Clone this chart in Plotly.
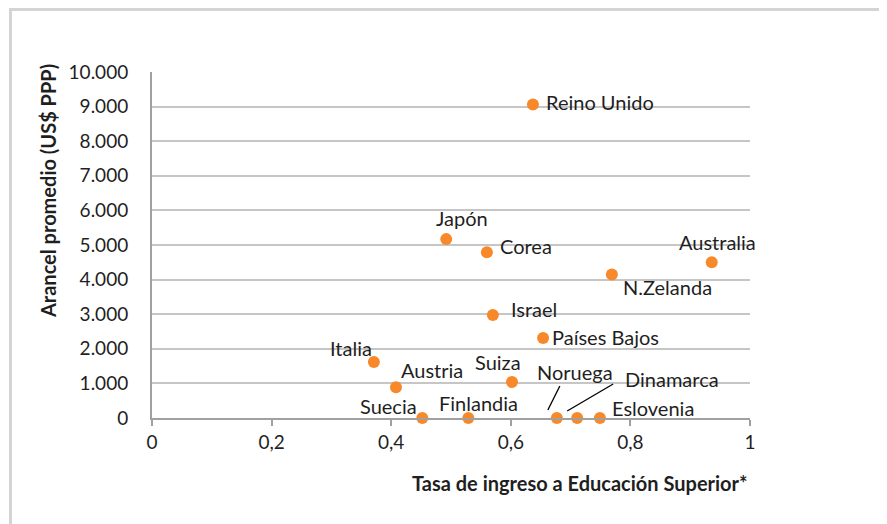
import plotly.graph_objects as go

countries = ["Reino Unido", "Japón", "Corea", "Australia", "N.Zelanda", "Israel",
             "Países Bajos", "Italia", "Austria", "Suiza", "Suecia", "Finlandia",
             "Noruega", "Dinamarca", "Eslovenia"]
tasa = [0.637, 0.492, 0.560, 0.936, 0.769, 0.570, 0.654, 0.371, 0.408, 0.602,
        0.452, 0.529, 0.677, 0.711, 0.749]
arancel = [9060, 5170, 4790, 4500, 4150, 2980, 2310, 1620, 890, 1040,
           0, 0, 0, 0, 0]
x_ticks = [0, 0.2, 0.4, 0.6, 0.8, 1.0]
x_ticktext = ["0", "0,2", "0,4", "0,6", "0,8", "1"]
y_ticks = list(range(0, 10001, 1000))

# label offsets (pixels) relative to each point: (xshift, yshift)
label_offsets = {
    "Reino Unido": (67, 3), "Japón": (16, 21), "Corea": (39, 6),
    "Australia": (6, 20), "N.Zelanda": (56, -13), "Israel": (41, 6),
    "Países Bajos": (62, 1), "Italia": (-23, 14), "Austria": (36, 17),
    "Suiza": (-14, 20), "Suecia": (-34, 12), "Finlandia": (10, 15),
    "Noruega": (18, 46), "Dinamarca": (95, 39), "Eslovenia": (53, 10),
}

FONT = "Lato, Carlito, Calibri, sans-serif"
TXT = "#1f1f1f"

# page has an 8px body margin; target plot area (page px): x 152..750, y 72..418
OFF = 8
PX0, PX1, PY0, PY1 = 152, 750, 72, 418
W, H = 887 - OFF, 524 - OFF
L, T = PX0 - OFF, PY0 - OFF
pw, ph = PX1 - PX0, PY1 - PY0
R, B = W - L - pw, H - T - ph

fig = go.Figure()
fig.add_trace(go.Scatter(
    x=tasa, y=arancel, mode="markers", cliponaxis=False,
    marker=dict(size=12, color="#F7892A"), hoverinfo="text", text=countries,
    showlegend=False,
))

anns = []
for c, xv, yv in zip(countries, tasa, arancel):
    dx, dy = label_offsets[c]
    anns.append(dict(x=xv, y=yv, text=c, showarrow=False, xanchor="center",
                     yanchor="middle", xshift=dx, yshift=dy,
                     font=dict(family=FONT, size=20, color=TXT)))

# axis titles
anns.append(dict(x=1.0, y=(PY1 - 483) / ph, xref="paper", yref="paper", xanchor="right",
                 yanchor="middle", showarrow=False,
                 text="<b>Tasa de ingreso a Educación Superior*</b>",
                 font=dict(family=FONT, size=20, color=TXT)))
anns.append(dict(x=(48 - PX0) / pw, y=(PY1 - 191) / ph, xref="paper", yref="paper",
                 xanchor="center", yanchor="middle", showarrow=False, textangle=-90,
                 text="<b>Arancel promedio (US$ PPP)</b>",
                 font=dict(family=FONT, size=20, color=TXT)))

shapes = []
# leader lines for Noruega and Dinamarca (data coords relative to points)
i_n = countries.index("Noruega")
i_d = countries.index("Dinamarca")
px = 1.0 / pw  # data units per pixel in x
py = 10000.0 / ph  # data units per pixel in y
shapes.append(dict(type="line", xref="x", yref="y",
                   x0=tasa[i_n] - 9 * px, y0=arancel[i_n] + 8 * py,
                   x1=tasa[i_n] + 3 * px, y1=arancel[i_n] + 32 * py,
                   line=dict(color="#000000", width=1.3)))
shapes.append(dict(type="line", xref="x", yref="y",
                   x0=tasa[i_d] - 10 * px, y0=arancel[i_d] + 7 * py,
                   x1=tasa[i_d] + 36 * px, y1=arancel[i_d] + 34 * py,
                   line=dict(color="#000000", width=1.3)))
# outer chart border
shapes.append(dict(type="rect", xref="paper", yref="paper",
                   x0=(10.5 - PX0) / pw, x1=(900 - PX0) / pw,
                   y0=(PY1 - 540) / ph, y1=(PY1 - 9.5) / ph,
                   line=dict(color="#D4D4D4", width=3), layer="below"))

fig.update_layout(
    width=W, height=H, margin=dict(l=L, r=R, t=T, b=B),
    paper_bgcolor="white", plot_bgcolor="white",
    separators=",.",
    font=dict(family=FONT, size=19, color=TXT),
    annotations=anns, shapes=shapes,
    xaxis=dict(range=[0, 1], tickvals=x_ticks, ticktext=x_ticktext,
               showgrid=False, zeroline=False, showline=True,
               linecolor="#A0A0A0", linewidth=2, ticks="outside",
               ticklen=6, tickcolor="#A0A0A0", tickwidth=2,
               tickfont=dict(family=FONT, size=19, color=TXT)),
    yaxis=dict(range=[0, 10000], tickvals=y_ticks,
               ticktext=[f"{v:,}".replace(",", ".") for v in y_ticks],
               showgrid=True, gridcolor="#C6C6C6", gridwidth=1.5,
               zeroline=False, showline=True, linecolor="#A0A0A0",
               linewidth=2, ticks="", ticklabelstandoff=18,
               tickfont=dict(family=FONT, size=19, color=TXT)),
)

fig.write_html("out.html")
